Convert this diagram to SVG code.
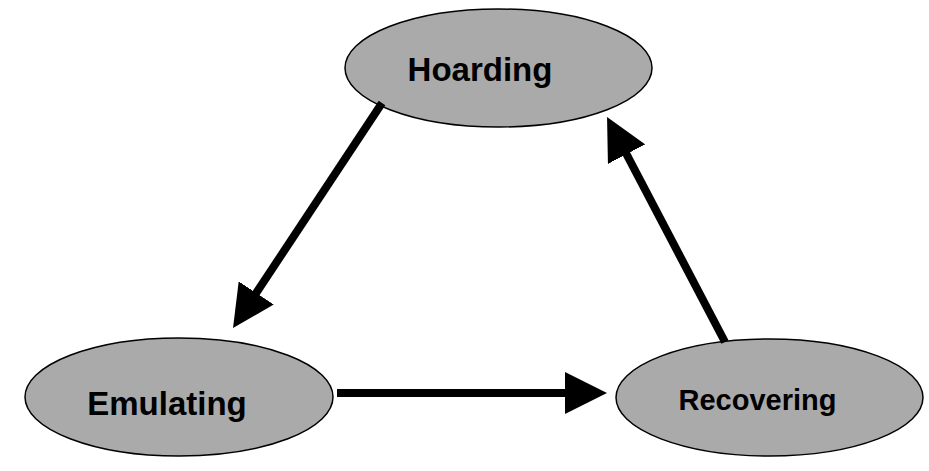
<svg xmlns="http://www.w3.org/2000/svg" width="929" height="471" viewBox="0 0 929 471">
<style>
.node ellipse{fill:#aaaaaa;stroke:#000;stroke-width:1.5}
.node text{font-family:"Liberation Sans",Arial,sans-serif;font-weight:bold;fill:#000;text-anchor:middle}
.conn line{stroke:#000;stroke-width:8;marker-end:url(#ah)}
</style>
<defs>
<marker id="ah" markerUnits="userSpaceOnUse" markerWidth="42" markerHeight="42" refX="10" refY="21" orient="auto" viewBox="0 0 42 42">
<path d="M0,0 L42,21 L0,42 z" fill="#000"/>
</marker>
</defs>
<rect width="929" height="471" fill="#fff"/>
<g id="hoarding" class="node">
<ellipse cx="498.5" cy="68" rx="153.5" ry="59"/>
<text x="480" y="81" font-size="33">Hoarding</text>
</g>
<g id="emulating" class="node">
<ellipse cx="179" cy="397" rx="154" ry="59"/>
<text x="167" y="415" font-size="33">Emulating</text>
</g>
<g id="recovering" class="node">
<ellipse cx="769.5" cy="397.5" rx="153.5" ry="58.5"/>
<text x="757.5" y="410" font-size="29">Recovering</text>
</g>
<g id="connectors" class="conn">
<line x1="382" y1="103" x2="250.7" y2="301.3"/>
<line x1="725" y1="342" x2="621.9" y2="145.3"/>
<line x1="337" y1="393" x2="575" y2="393"/>
</g>
</svg>
